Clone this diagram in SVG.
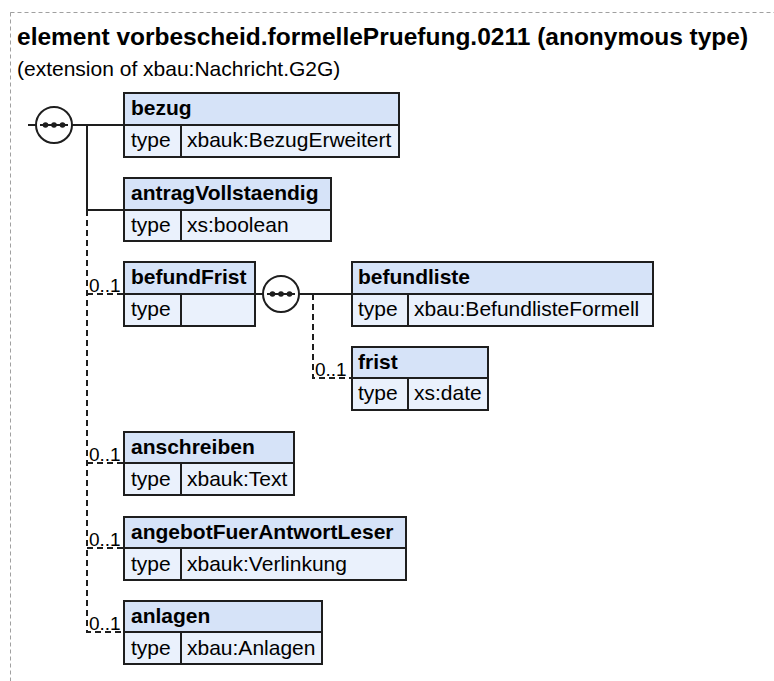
<svg xmlns="http://www.w3.org/2000/svg" width="774" height="681" viewBox="0 0 774 681">
<style>
.frame{fill:none;stroke:#a0a0a0;stroke-width:1;stroke-dasharray:4,3}
.title{font-family:"Liberation Sans",Arial,sans-serif;font-size:24.5px;font-weight:bold;fill:#000}
.sub{font-family:"Liberation Sans",Arial,sans-serif;font-size:21px;fill:#000}
.hdr{fill:#d6e3f8;stroke:#1e1e1e;stroke-width:2}
.row{fill:#eaf1fc;stroke:#1e1e1e;stroke-width:2}
.sep{stroke:#1e1e1e;stroke-width:2}
.name{font-family:"Liberation Sans",Arial,sans-serif;font-size:21px;font-weight:bold;fill:#000}
.txt{font-family:"Liberation Sans",Arial,sans-serif;font-size:21px;fill:#000}
.card{font-family:"Liberation Sans",Arial,sans-serif;font-size:19px;fill:#000}
.solid{fill:none;stroke:#1e1e1e;stroke-width:2}
.dash{fill:none;stroke:#1e1e1e;stroke-width:2;stroke-dasharray:6,4}
.seq{fill:#fff;stroke:#1e1e1e;stroke-width:2}
.dot{fill:#1e1e1e}
</style>
<defs>
<g id="seqsym">
<circle class="seq" cx="0" cy="0" r="18"/>
<line x1="-14" y1="0" x2="14" y2="0" stroke="#1e1e1e" stroke-width="2"/>
<circle class="dot" cx="-8.5" cy="0" r="2.8"/>
<circle class="dot" cx="0" cy="0" r="2.8"/>
<circle class="dot" cx="8.5" cy="0" r="2.8"/>
</g>
</defs>
<rect class="frame" x="10.5" y="12.5" width="800" height="700"/>
<text class="title" x="17" y="45">element vorbescheid.formellePruefung.0211 (anonymous type)</text>
<text class="sub" x="17" y="76">(extension of xbau:Nachricht.G2G)</text>

<g id="connectors">
<line class="solid" x1="28" y1="125" x2="36" y2="125"/>
<line class="solid" x1="72" y1="125" x2="124" y2="125"/>
<line class="solid" x1="87" y1="125" x2="87" y2="210"/>
<line class="solid" x1="87" y1="210" x2="124" y2="210"/>
<path class="dash" d="M87,210 V632 H124 M87,294 H124 M87,463 H124 M87,548 H124"/>
<line class="solid" x1="255" y1="294" x2="263" y2="294"/>
<line class="solid" x1="299" y1="294" x2="352" y2="294"/>
<path class="dash" d="M313,294 V378 H352"/>
<text class="card" x="89" y="292">0..1</text>
<text class="card" x="315" y="376">0..1</text>
<text class="card" x="89" y="461">0..1</text>
<text class="card" x="89" y="546">0..1</text>
<text class="card" x="89" y="630">0..1</text>
</g>

<g id="seq1"><use href="#seqsym" x="54" y="125"/></g>
<g id="seq2"><use href="#seqsym" x="281" y="294"/></g>

<g id="bezug">
<rect class="hdr" x="124" y="93" width="275" height="32"/>
<rect class="row" x="124" y="125" width="275" height="32"/>
<line class="sep" x1="181" y1="125" x2="181" y2="157"/>
<text class="name" x="131" y="115">bezug</text>
<text class="txt" x="131" y="147">type</text>
<text class="txt" x="187" y="147">xbauk:BezugErweitert</text>
</g>

<g id="antragVollstaendig">
<rect class="hdr" x="124" y="178" width="207" height="32"/>
<rect class="row" x="124" y="210" width="207" height="31"/>
<line class="sep" x1="181" y1="210" x2="181" y2="241"/>
<text class="name" x="131" y="200">antragVollstaendig</text>
<text class="txt" x="131" y="232">type</text>
<text class="txt" x="187" y="232">xs:boolean</text>
</g>

<g id="befundFrist">
<rect class="hdr" x="124" y="262" width="131" height="32"/>
<rect class="row" x="124" y="294" width="131" height="32"/>
<line class="sep" x1="181" y1="294" x2="181" y2="326"/>
<text class="name" x="131" y="284">befundFrist</text>
<text class="txt" x="131" y="316">type</text>
</g>

<g id="befundliste">
<rect class="hdr" x="352" y="262" width="301" height="32"/>
<rect class="row" x="352" y="294" width="301" height="32"/>
<line class="sep" x1="408" y1="294" x2="408" y2="326"/>
<text class="name" x="358" y="284">befundliste</text>
<text class="txt" x="358" y="316">type</text>
<text class="txt" x="414" y="316">xbau:BefundlisteFormell</text>
</g>

<g id="frist">
<rect class="hdr" x="352" y="347" width="136" height="31"/>
<rect class="row" x="352" y="378" width="136" height="32"/>
<line class="sep" x1="408" y1="378" x2="408" y2="410"/>
<text class="name" x="358" y="369">frist</text>
<text class="txt" x="358" y="400">type</text>
<text class="txt" x="414" y="400">xs:date</text>
</g>

<g id="anschreiben">
<rect class="hdr" x="124" y="432" width="170" height="31"/>
<rect class="row" x="124" y="463" width="170" height="32"/>
<line class="sep" x1="181" y1="463" x2="181" y2="495"/>
<text class="name" x="131" y="454">anschreiben</text>
<text class="txt" x="131" y="486">type</text>
<text class="txt" x="187" y="486">xbauk:Text</text>
</g>

<g id="angebotFuerAntwortLeser">
<rect class="hdr" x="124" y="517" width="282" height="31"/>
<rect class="row" x="124" y="548" width="282" height="32"/>
<line class="sep" x1="181" y1="548" x2="181" y2="580"/>
<text class="name" x="131" y="539">angebotFuerAntwortLeser</text>
<text class="txt" x="131" y="571">type</text>
<text class="txt" x="187" y="571">xbauk:Verlinkung</text>
</g>

<g id="anlagen">
<rect class="hdr" x="124" y="601" width="198" height="31"/>
<rect class="row" x="124" y="632" width="198" height="32"/>
<line class="sep" x1="181" y1="632" x2="181" y2="664"/>
<text class="name" x="131" y="623">anlagen</text>
<text class="txt" x="131" y="655">type</text>
<text class="txt" x="187" y="655">xbau:Anlagen</text>
</g>
</svg>
